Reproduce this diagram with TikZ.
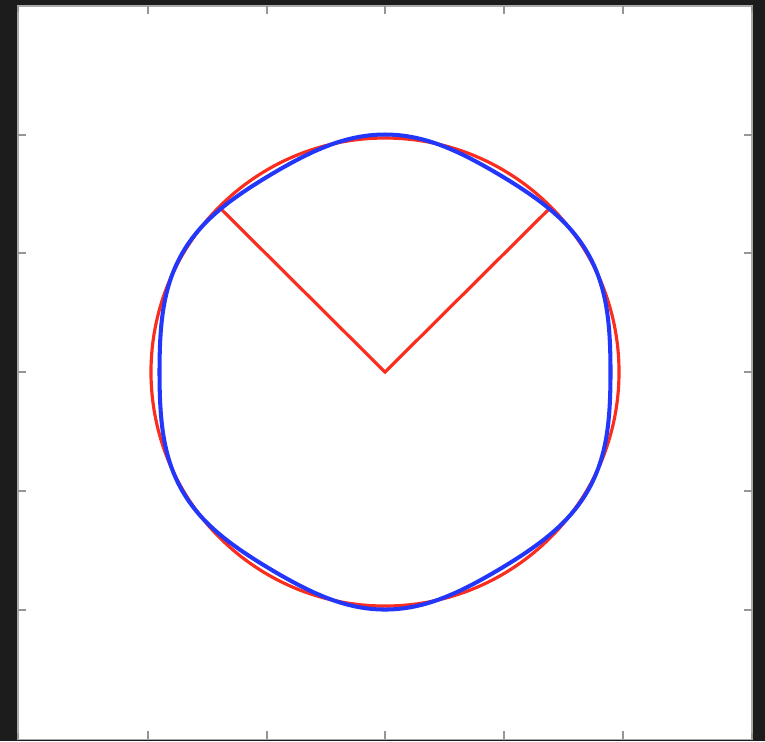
\documentclass[tikz,border=0pt]{standalone}
\definecolor{bgdark}{RGB}{28,28,28}
\definecolor{framegray}{RGB}{170,170,170}
\definecolor{tickgray}{RGB}{150,150,150}
\definecolor{plotred}{RGB}{250,45,30}
\definecolor{plotblue}{RGB}{35,55,250}
\begin{document}
\begin{tikzpicture}[x=0.01cm,y=-0.01cm,
  tick/.style={draw=tickgray,line width=0.4pt},
  redline/.style={draw=plotred,line width=0.9pt},
  blueline/.style={draw=plotblue,line width=1.15pt,line join=round}]
\fill[bgdark] (0,0) rectangle (765,741);
\fill[white,draw=framegray,line width=0.3pt] (18,6) rectangle (752,739);
\useasboundingbox (0,0) rectangle (765,741);
% ticks
\foreach \t in {148,267,385,504,623}{
  \draw[tick] (\t,6) -- (\t,14);
  \draw[tick] (\t,739) -- (\t,731);
}
\foreach \t in {135,253,372,491,610}{
  \draw[tick] (18,\t) -- (26,\t);
  \draw[tick] (752,\t) -- (744,\t);
}
\foreach \c in {18,752}{
  \draw[tick] (\c,6) -- (\c,12);
  \draw[tick] (\c,739) -- (\c,733);
}
% red circle and radii
\coordinate (O) at (385,372);
\coordinate (A) at (221,209);
\coordinate (B) at (549,209);
\draw[redline] (O) circle (234);
\draw[redline] (A) -- (O) -- (B);
% blue curve: smoothed hexagon
\begin{scope}[shift={(O)}]
\draw[blueline] plot[domain=0:360, samples=241, smooth]
  ({(231.5-4.3*cos(6*\x)-1.7*cos(2*\x))*cos(\x)},
   {(231.5-4.3*cos(6*\x)-1.7*cos(2*\x))*sin(\x)}) -- cycle;
\end{scope}
\end{tikzpicture}
\end{document}
